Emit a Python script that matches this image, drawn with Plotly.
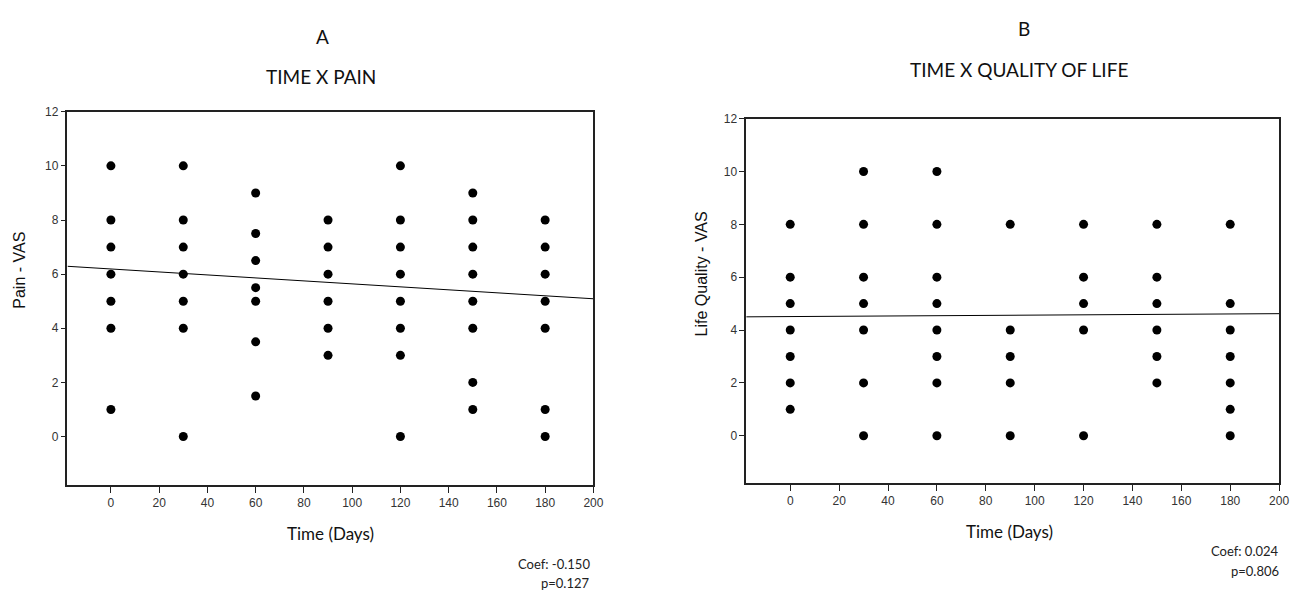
import plotly.graph_objects as go

# ---- Data ----
days = [0, 30, 60, 90, 120, 150, 180]

pain_by_day = {
    0:   [10, 8, 7, 6, 5, 4, 1],
    30:  [10, 8, 7, 6, 5, 4, 0],
    60:  [9, 7.5, 6.5, 5.5, 5, 3.5, 1.5],
    90:  [8, 7, 6, 5, 4, 3],
    120: [10, 8, 7, 6, 5, 4, 3, 0],
    150: [9, 8, 7, 6, 5, 4, 2, 1],
    180: [8, 7, 6, 5, 4, 1, 0],
}

qol_by_day = {
    0:   [8, 6, 5, 4, 3, 2, 1],
    30:  [10, 8, 6, 5, 4, 2, 0],
    60:  [10, 8, 6, 5, 4, 3, 2, 0],
    90:  [8, 4, 3, 2, 0],
    120: [8, 6, 5, 4, 0],
    150: [8, 6, 5, 4, 3, 2],
    180: [8, 5, 4, 3, 2, 1, 0],
}

# regression lines (endpoints)
fit_x = [-18, 200]
fit_pain = [6.29, 5.09]
fit_qol = [4.50, 4.62]

x_ticks = [0, 20, 40, 60, 80, 100, 120, 140, 160, 180, 200]
y_ticks = [0, 2, 4, 6, 8, 10, 12]

stats_a = ["Coef: -0.150", "p=0.127"]
stats_b = ["Coef: 0.024", "p=0.806"]


def flatten(d):
    xs, ys = [], []
    for k in days:
        for v in d[k]:
            xs.append(k)
            ys.append(v)
    return xs, ys


W, H = 1304, 591
fig = go.Figure()

pa_x, pa_y = flatten(pain_by_day)
pb_x, pb_y = flatten(qol_by_day)

marker = dict(color="black", size=9, symbol="circle")
fig.add_trace(go.Scatter(x=pa_x, y=pa_y, mode="markers", marker=marker,
                         xaxis="x", yaxis="y", showlegend=False))
fig.add_trace(go.Scatter(x=fit_x, y=fit_pain, mode="lines",
                         line=dict(color="black", width=1),
                         xaxis="x", yaxis="y", showlegend=False))
fig.add_trace(go.Scatter(x=pb_x, y=pb_y, mode="markers", marker=marker,
                         xaxis="x2", yaxis="y2", showlegend=False))
fig.add_trace(go.Scatter(x=fit_x, y=fit_qol, mode="lines",
                         line=dict(color="black", width=1),
                         xaxis="x2", yaxis="y2", showlegend=False))

tickfont = dict(family="Liberation Sans, Arial, sans-serif", size=12, color="#333333")


def xax(domain, anchor):
    return dict(domain=domain, anchor=anchor, range=[-18, 200],
                tickmode="array", tickvals=x_ticks, ticks="outside",
                ticklen=6, tickwidth=1, tickcolor="#222222",
                showline=True, linecolor="#222222", linewidth=1.5, mirror=True,
                showgrid=False, zeroline=False, tickfont=tickfont)


def yax(domain, anchor):
    return dict(domain=domain, anchor=anchor, range=[-1.8, 12],
                tickmode="array", tickvals=y_ticks, ticks="outside",
                ticklen=5, tickwidth=1, tickcolor="#222222",
                showline=True, linecolor="#222222", linewidth=1.5, mirror=True,
                showgrid=False, zeroline=False, tickfont=tickfont)


fig.update_layout(
    width=W, height=H,
    margin=dict(l=0, r=0, t=0, b=0),
    paper_bgcolor="white", plot_bgcolor="white",
    xaxis=xax([68 / W, 598 / W], "y"),
    yaxis=yax([1 - 484 / H, 1 - 106 / H], "x"),
    xaxis2=xax([752 / W, 1289 / W], "y2"),
    yaxis2=yax([1 - 482 / H, 1 - 113 / H], "x2"),
)

title_font = dict(family="Lato, Open Sans, sans-serif", size=19, color="#111111")
label_font = dict(family="Lato, Open Sans, sans-serif", size=17, color="#111111")
ylabel_font = dict(family="Liberation Sans, Arial, sans-serif", size=16, color="#111111")
stat_font = dict(family="Lato, Open Sans, sans-serif", size=13, color="#222222")


def ann(text, x, y, font, xanchor="center", textangle=0):
    fig.add_annotation(text=text, x=x / W, y=1 - y / H, xref="paper", yref="paper",
                       showarrow=False, font=font, xanchor=xanchor, yanchor="middle",
                       textangle=textangle)


ann("A", 325, 30, title_font)
ann("TIME X PAIN", 323, 70, title_font)
ann("B", 1032, 22, title_font)
ann("TIME X QUALITY OF LIFE", 1027, 63, title_font)

ann("Time (Days)", 333, 533, label_font)
ann("Time (Days)", 1017, 531, label_font)
ann("Pain - VAS", 20, 266, ylabel_font, textangle=-90)
ann("Life Quality - VAS", 707, 270, ylabel_font, textangle=-90)

ann(stats_a[0], 597, 564, stat_font, xanchor="right")
ann(stats_a[1], 597, 583, stat_font, xanchor="right")
ann(stats_b[0], 1291, 551, stat_font, xanchor="right")
ann(stats_b[1], 1291, 571, stat_font, xanchor="right")

fig.write_html(
    "out.html",
    config={"displayModeBar": False},
    post_script="document.body.style.margin='0';document.body.style.padding='0';"
                "document.body.style.overflow='hidden';",
)
